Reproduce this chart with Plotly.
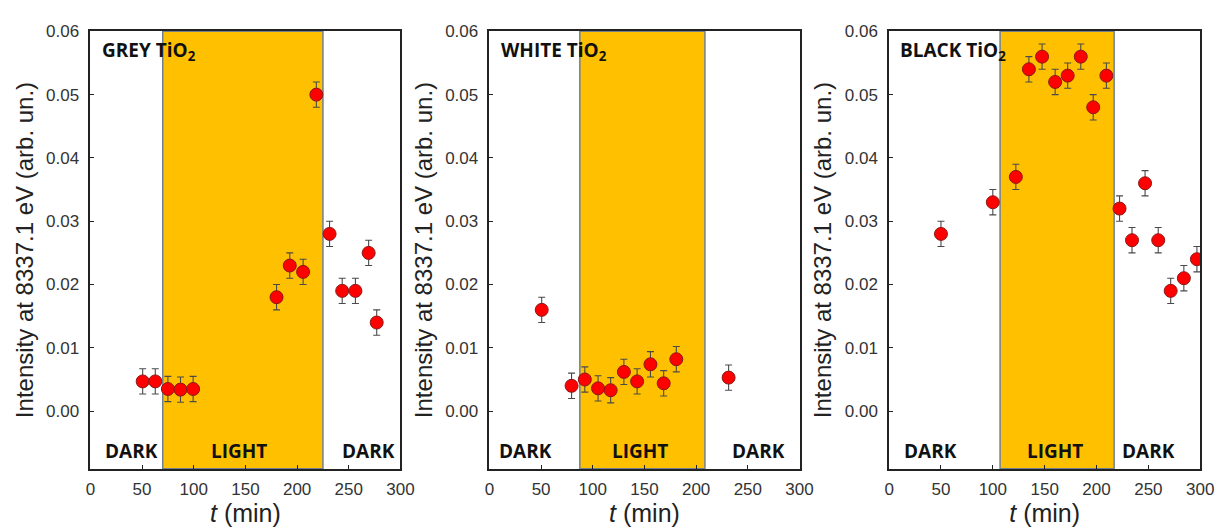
import plotly.graph_objects as go

# ---------------- data ----------------
samples = ["GREY TiO<sub>2</sub>", "WHITE TiO<sub>2</sub>", "BLACK TiO<sub>2</sub>"]

grey_t = [50.6, 62.8, 75.0, 87.2, 99.4, 180.1, 192.9, 205.8, 218.6, 231.4, 243.6, 256.4, 269.2, 277.0]
grey_i = [0.0047, 0.0047, 0.0035, 0.0034, 0.0035, 0.018, 0.023, 0.022, 0.050, 0.028, 0.019, 0.019, 0.025, 0.014]
grey_err = [0.002] * len(grey_t)

white_t = [50.6, 79.5, 92.3, 105.1, 117.3, 130.1, 142.9, 155.8, 168.6, 180.8, 231.4]
white_i = [0.016, 0.004, 0.005, 0.0036, 0.0033, 0.0062, 0.0047, 0.0074, 0.0044, 0.0082, 0.0053]
white_err = [0.002] * len(white_t)

black_t = [50.0, 100.0, 122.2, 134.8, 147.5, 160.1, 172.2, 184.8, 196.8, 209.5, 222.2, 234.2, 246.8, 259.5, 271.5, 284.2, 296.8]
black_i = [0.028, 0.033, 0.037, 0.054, 0.056, 0.052, 0.053, 0.056, 0.048, 0.053, 0.032, 0.027, 0.036, 0.027, 0.019, 0.021, 0.024]
black_err = [0.002] * len(black_t)

# illumination period (start, end) in minutes for each sample
light_on = [70, 87.5, 107]
light_off = [225, 208.5, 217]

x_ticks = [0, 50, 100, 150, 200, 250, 300]
y_ticks = [0.00, 0.01, 0.02, 0.03, 0.04, 0.05, 0.06]

series_t = [grey_t, white_t, black_t]
series_i = [grey_i, white_i, black_i]
series_e = [grey_err, white_err, black_err]

# ---------------- layout config ----------------
W, H = 1229, 530
x_px = [(86.7, 401.7), (492, 807), (898, 1214)]
y_top, y_bot = 22.7, 467.7
label_x = [(40, 144, 269), (34.6, 146, 260.6), (40, 160, 250)]
label_txt = ("DARK", "LIGHT", "DARK")

fig = go.Figure()
fontfam = "Liberation Sans, Arial, sans-serif"
boldfam = "Open Sans, sans-serif"

for k in range(3):
    n = "" if k == 0 else str(k + 1)
    xa, ya = "x" + n, "y" + n
    fig.add_trace(go.Scatter(
        x=series_t[k], y=series_i[k], mode="markers",
        error_y=dict(type="data", array=series_e[k], color="#4a4a4a", thickness=1.1, width=3.5),
        marker=dict(color="#ff0000", size=13, line=dict(color="#8a1a1a", width=1)),
        xaxis=xa, yaxis=ya, showlegend=False,
    ))
    fig.add_shape(type="rect", xref=xa, yref=ya + " domain",
                  x0=light_on[k], x1=light_off[k], y0=0, y1=1,
                  fillcolor="#ffc000", line=dict(color="#6f8090", width=1.5), layer="below")
    axis_common = dict(showline=True, linecolor="#222", linewidth=1.5, mirror=True,
                       ticks="inside", ticklen=4, tickcolor="#222", showgrid=False, zeroline=False,
                       tickfont=dict(family=fontfam, size=17, color="#333"))
    fig.update_layout(**{
        ("xaxis" + n): dict(domain=[x_px[k][0] / W, x_px[k][1] / W], range=[0, 300],
                            tickvals=x_ticks, anchor=ya, ticklabelstandoff=4,
                            title=dict(text="<i>t</i> (min)", font=dict(family=fontfam, size=25, color="#222"), standoff=2),
                            **axis_common),
        ("yaxis" + n): dict(domain=[1 - y_bot / H, 1 - y_top / H], range=[-0.0091, 0.06],
                            tickvals=y_ticks, tickformat=".2f", anchor=xa, ticklabelstandoff=6,
                            title=dict(text="Intensity at 8337.1 eV (arb. un.)",
                                       font=dict(family=fontfam, size=24, color="#222"), standoff=6),
                            **axis_common),
    })
    fig.add_annotation(text="<b>" + samples[k] + "</b>", xref=xa, yref=ya, x=9, y=0.0569,
                       xanchor="left", yanchor="middle", showarrow=False,
                       font=dict(family=boldfam, size=19, color="#111"))
    for lx, lt in zip(label_x[k], label_txt):
        fig.add_annotation(text="<b>" + lt + "</b>", xref=xa, yref=ya, x=lx, y=-0.0063,
                           xanchor="center", yanchor="middle", showarrow=False,
                           font=dict(family=boldfam, size=19, color="#111"))

fig.update_layout(width=W, height=H, margin=dict(l=0, r=0, t=0, b=0),
                  paper_bgcolor="white", plot_bgcolor="white")
fig.write_html("out.html", config={"displayModeBar": False},
               post_script="document.body.style.margin='0';document.body.style.overflow='hidden';")
